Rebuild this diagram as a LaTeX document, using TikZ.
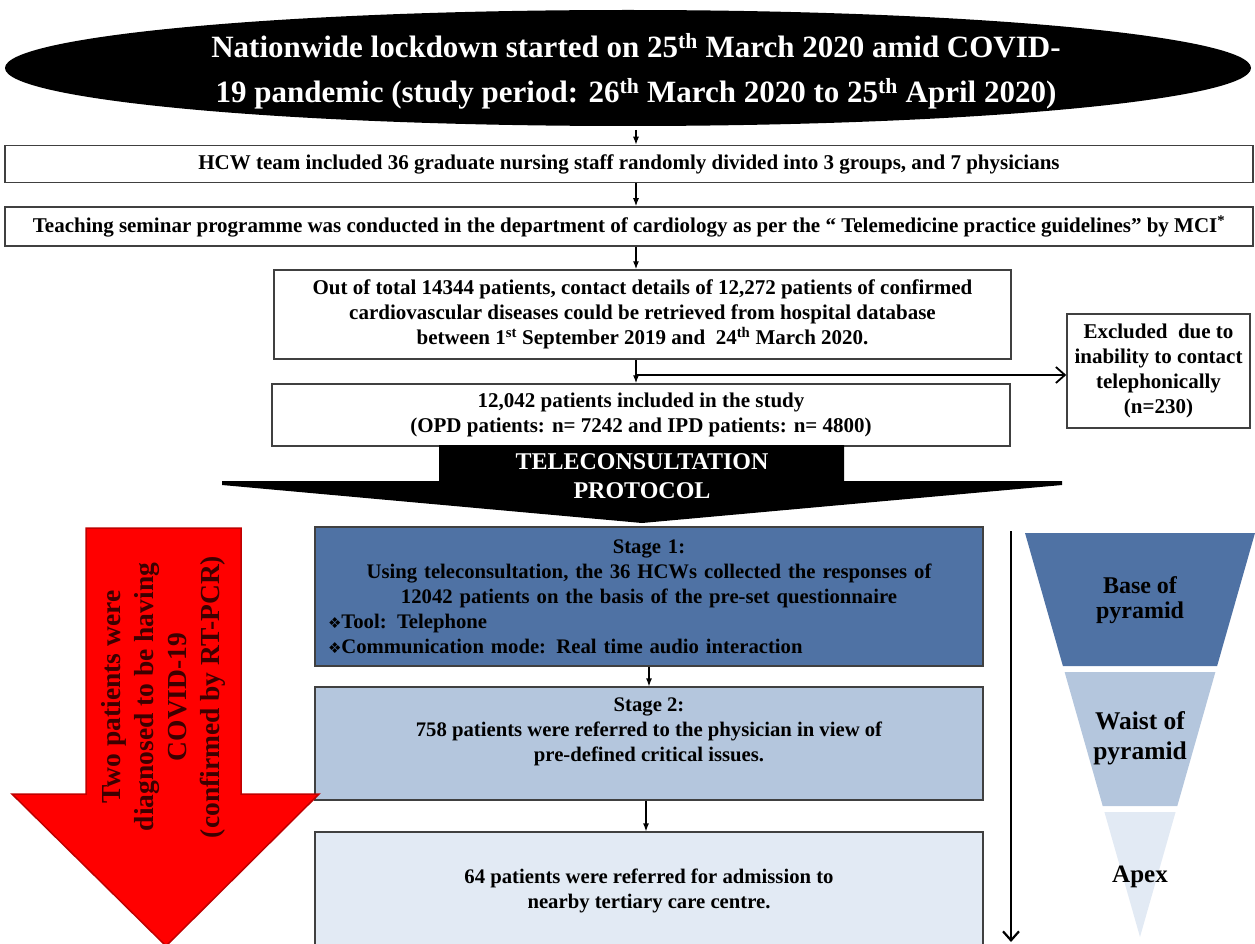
\documentclass[tikz,border=0pt]{standalone}
\usepackage{fontspec}
\setmainfont{Liberation Serif}
\newfontfamily\symfont{DejaVu Sans}
\usetikzlibrary{arrows.meta,positioning,shapes.geometric}

\definecolor{stagedark}{RGB}{79,114,164}
\definecolor{stagemid}{RGB}{180,198,221}
\definecolor{stagelight}{RGB}{226,234,244}
\definecolor{redline}{RGB}{192,0,0}
\definecolor{redtext}{RGB}{60,0,0}

\begin{document}
\begin{tikzpicture}[x=1pt, y=-1pt, semithick,
    flowbox/.style={draw=black!75, line width=1.5pt, fill=white, align=center, inner sep=0pt,
      font=\bfseries\fontsize{21}{25}\selectfont},
    stagebox/.style={draw=black!75, line width=1.2pt, minimum width=668pt, inner sep=0pt},
    stagetext/.style={align=center, font=\bfseries\fontsize{20.7}{25}\selectfont},
    pyrtext/.style={align=center, font=\bfseries\fontsize{24}{25}\selectfont},
    flowarrow/.style={-{Latex[length=8pt,width=6pt]}, line width=1.2pt},
    bigarrow/.style={-{Straight Barb[length=9pt,width=16pt]}, line width=2.2pt}]
    \useasboundingbox (0,0) rectangle (1255,944);
    \coordinate (spine) at (636,0);
    % lockdown ellipse
    \fill [black] (628,68) ellipse [x radius=623pt, y radius=58pt];
    \node [align=center, text=white, minimum height=117pt, font=\bfseries\fontsize{31}{45}\selectfont] (title) at (636,71)
      {Nationwide lockdown started on 25\textsuperscript{th} March 2020 amid COVID-\\
       19 pandemic (study period: 26\textsuperscript{th} March 2020 to 25\textsuperscript{th} April 2020)};
    \node [flowbox, minimum width=1248pt, minimum height=37pt] (hcw) [below of=title, node distance=93pt, xshift=-7pt]
      {HCW team included 36 graduate nursing staff randomly divided into 3 groups, and 7 physicians};
    \node [flowbox, minimum width=1248pt, minimum height=39pt] (teach) [below of=hcw, node distance=62.5pt]
      {Teaching seminar programme was conducted in the department of cardiology as per the “ Telemedicine practice guidelines” by MCI\textsuperscript{*}};
    \node [flowbox, minimum width=737pt, minimum height=89pt] (total) [below of=teach, node distance=88pt, xshift=13.5pt]
      {Out of total 14344 patients, contact details of 12,272 patients of confirmed\\
       cardiovascular diseases could be retrieved from hospital database\\
       between 1\textsuperscript{st} September 2019 and\ \ 24\textsuperscript{th} March 2020.};
    \node [flowbox, minimum width=738pt, minimum height=62pt] (incl) [below of=total, node distance=100.5pt, xshift=-1.5pt]
      {12,042 patients included in the study\\(OPD patients: n= 7242 and IPD patients: n= 4800)};
    \node [flowbox, minimum width=183pt, minimum height=114pt] (excl) at (1158.5,371)
      {Excluded\ \ due to\\inability to contact\\telephonically\\(n=230)};
    \coordinate (split) at (636,375);
    \draw [flowarrow] (title.south -| spine) -- (hcw.north -| spine);
    \draw [flowarrow] (hcw.south -| spine) -- (teach.north -| spine);
    \draw [flowarrow] (teach.south -| spine) -- (total.north -| spine);
    \draw [flowarrow] (total.south -| spine) -- (incl.north -| spine);
    \draw [bigarrow, line width=1.8pt] (split) -- (split -| excl.west);
    % teleconsultation arrow
    \fill [black] (439,445) -- (844,445) -- (844,481) -- (1062,481) -- (1062,485) -- (642,523)
      -- (222,485) -- (222,481) -- (439,481) -- cycle;
    \node [align=center, text=white, font=\bfseries\fontsize{24}{29}\selectfont] (proto) at (642,476)
      {TELECONSULTATION\\PROTOCOL};
    % stages
    \node [stagebox, fill=stagedark, minimum height=139pt] (s1) at (649,596.5) {};
    \node [stagetext, text width=642pt] (s1t) at (s1)
      {Stage 1:\\
       Using teleconsultation, the 36 HCWs collected the responses of\\
       12042 patients on the basis of the pre-set questionnaire\\
       \makebox[642pt][l]{{\symfont\fontsize{15}{25}\selectfont ❖}Tool: Telephone}\\
       \makebox[642pt][l]{{\symfont\fontsize{15}{25}\selectfont ❖}Communication mode: Real time audio interaction}};
    \node [stagebox, fill=stagemid, minimum height=113pt] (s2) at (649,743.5) {};
    \node [stagetext] (s2t) at (649,732)
      {Stage 2:\\758 patients were referred to the physician in view of\\pre-defined critical issues.};
    \node [stagebox, fill=stagelight, minimum height=124pt] (s3) at (649,894) {};
    \node [stagetext] (s3t) at (649,891)
      {64 patients were referred for admission to\\nearby tertiary care centre.};
    \draw [flowarrow] (s1.south -| s2t) -- (s2.north -| s2t);
    \draw [flowarrow] ([xshift=-3pt]s2.south) -- ([xshift=-3pt]s3.north);
    % red arrow
    \fill [red, draw=redline, line width=1.5pt] (86,528) -- (241,528) -- (241,794) -- (319,794)
      -- (166,946) -- (12,794) -- (86,794) -- cycle;
    \node [rotate=90, align=center, text=redtext, font=\bfseries\fontsize{27.5}{33}\selectfont] (covid) at (163,697)
      {Two patients were\\diagnosed to be having\\COVID-19\\(confirmed by RT-PCR)};
    % pyramid
    \coordinate (top) at (1011,531);
    \coordinate (bot) at (1011,942);
    \draw [bigarrow] (top) -- (bot);
    \fill [stagedark] (1025,533) -- (1255,533) -- (1217.1,666) -- (1062.9,666) -- cycle;
    \fill [stagemid] (1064.6,672) -- (1215.4,672) -- (1177.3,806) -- (1102.7,806) -- cycle;
    \fill [stagelight] (1104.4,812) -- (1175.6,812) -- (1140,937) -- cycle;
    \node [pyrtext] (base) at (1140,600) {Base of\\pyramid};
    \node [pyrtext, font=\bfseries\fontsize{25.5}{30}\selectfont] (waist) at (1140,738) {Waist of\\pyramid};
    \node [pyrtext, font=\bfseries\fontsize{25}{26}\selectfont] (apex) at (1140,877) {Apex};
  \end{tikzpicture}
\end{document}
